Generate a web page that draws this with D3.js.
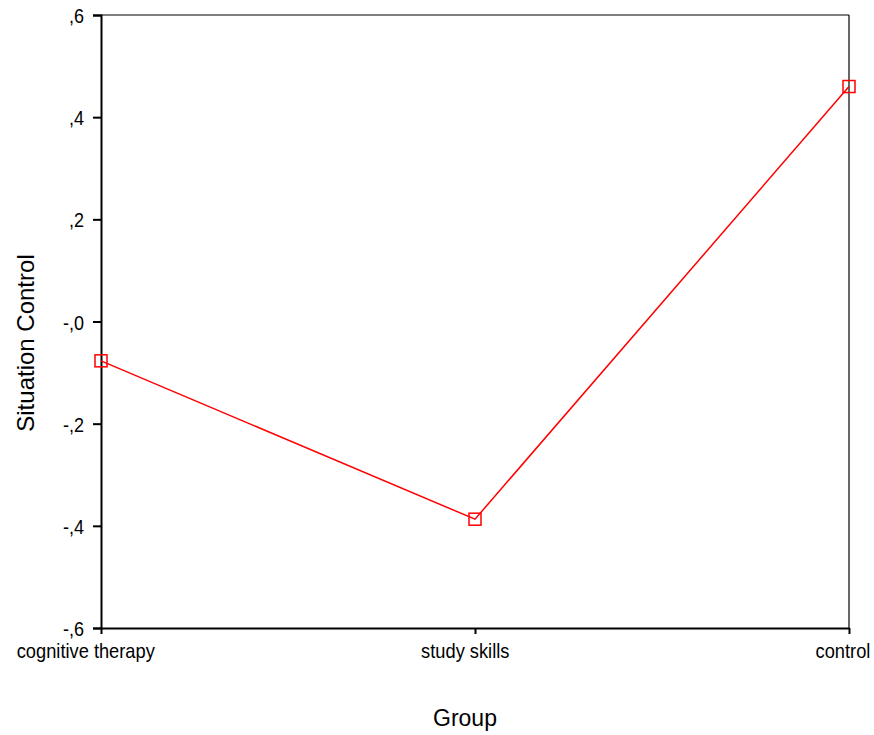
<!DOCTYPE html>
<html><head><meta charset="utf-8">
<script src="https://cdn.jsdelivr.net/npm/d3@7"></script>
<style>body{margin:0;background:#fff}svg{display:block}text{font-family:"Liberation Sans",Arial,sans-serif;fill:#000}</style>
</head><body>
<svg id="c" width="874" height="735"></svg>
<script>
const categories = ["cognitive therapy", "study skills", "control"];
const values = [-0.077, -0.387, 0.46];
const yTicks = [0.6, 0.4, 0.2, 0, -0.2, -0.4, -0.6];
const yTickLabels = [",6", ",4", ",2", "-,0", "-,2", "-,4", "-,6"];
const xTitle = "Group";
const yTitle = "Situation Control";

const svg = d3.select("#c");
const L = 101, R = 849, T = 15, B = 628;
const x = d3.scalePoint().domain(categories).range([L, R]);
const y = d3.scaleLinear().domain([-0.6, 0.6]).range([B, T]);

// frame top/right
svg.append("line").attr("x1", L).attr("x2", R).attr("y1", T).attr("y2", T).attr("stroke", "#555").attr("stroke-width", 1.5);
svg.append("line").attr("x1", R).attr("x2", R).attr("y1", T).attr("y2", B).attr("stroke", "#000").attr("stroke-width", 1.2);

// y axis
const yAxis = d3.axisLeft(y).tickValues(yTicks).tickSize(8).tickFormat(() => "");
const gy = svg.append("g").attr("transform", `translate(${L},0)`).call(yAxis);
gy.select(".domain").attr("stroke", "#000").attr("stroke-width", 2);
gy.selectAll(".tick line").attr("stroke", "#000").attr("stroke-width", 2);
gy.selectAll(".tick text").remove();
svg.selectAll("text.yl").data(yTicks).enter().append("text").attr("class", "yl")
  .attr("text-anchor", "end").style("font-size", "20px")
  .attr("transform", d => `translate(${L - 17},${y(d) + 8}) scale(0.9,1)`)
  .text((d, i) => yTickLabels[i]);

// x axis
const xAxis = d3.axisBottom(x).tickSize(6).tickSizeOuter(0).tickFormat(() => "");
const gx = svg.append("g").attr("transform", `translate(0,${B})`).call(xAxis);
gx.select(".domain").attr("stroke", "#000").attr("stroke-width", 2);
gx.selectAll(".tick line").attr("stroke", "#000").attr("stroke-width", 2);
gx.selectAll(".tick text").remove();
const sx = 0.87;
svg.selectAll("text.xl").data(categories).enter().append("text").attr("class", "xl")
  .style("font-size", "21px").text(d => d)
  .each(function(d) {
    const w = this.getComputedTextLength() * sx;
    d3.select(this).attr("transform", `translate(${x(d) - 0.61 * w},${B + 30}) scale(${sx},1)`);
  });

// line
const line = d3.line().x((d, i) => x(categories[i])).y(d => y(d));
svg.append("path").datum(values).attr("d", line).attr("fill", "none").attr("stroke", "#ff0000").attr("stroke-width", 1.5);
svg.selectAll("rect.m").data(values).enter().append("rect").attr("class", "m")
  .attr("x", (d, i) => x(categories[i]) - 6).attr("y", d => y(d) - 6)
  .attr("width", 12).attr("height", 12).attr("fill", "none").attr("stroke", "#ff0000").attr("stroke-width", 1.5);

// titles
svg.append("text").attr("x", 465).attr("y", 726).attr("text-anchor", "middle").style("font-size", "23px").text(xTitle);
svg.append("text").attr("transform", "translate(34,343) rotate(-90)").attr("text-anchor", "middle").style("font-size", "24px").text(yTitle);
</script>
</body></html>
